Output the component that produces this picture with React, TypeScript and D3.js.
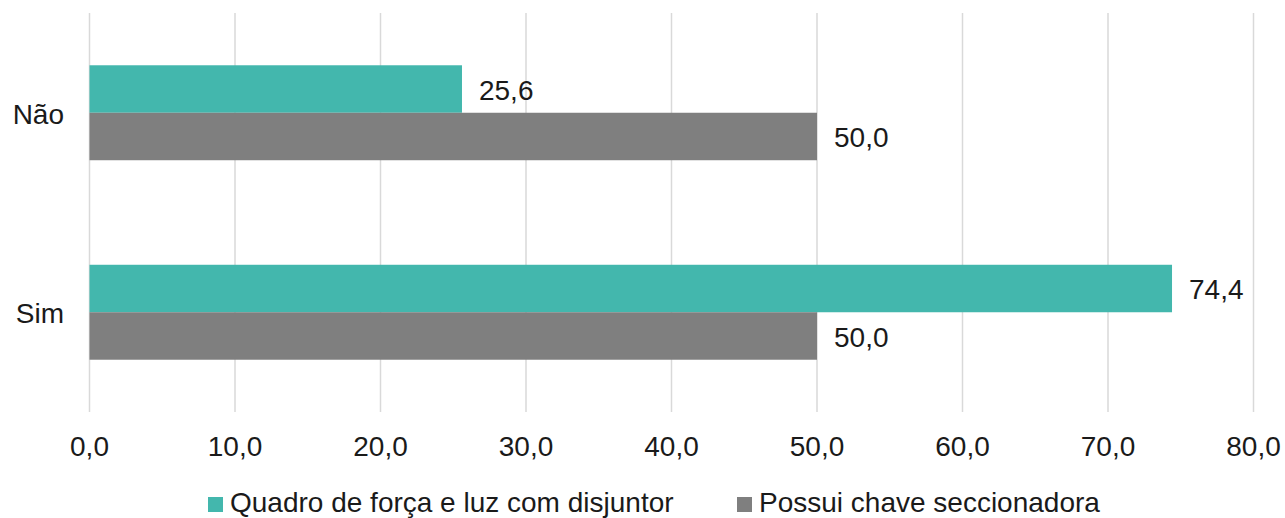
import React from "react";
import * as d3 from "d3";

const categories = ["Não", "Sim"];
const seriesNames = ["Quadro de força e luz com disjuntor", "Possui chave seccionadora"];
const quadroValues = [25.6, 74.4];
const chaveValues = [50.0, 50.0];
const xTicks = [0, 10, 20, 30, 40, 50, 60, 70, 80];
const colors = ["#43B7AD", "#7F7F7F"];

const W = 1285;
const H = 518;
const fmt = (v: number) => v.toFixed(1).replace(".", ",");

export default function App() {
  const x = d3.scaleLinear().domain([0, 80]).range([89.5, 1253.5]);
  const y = d3
    .scaleBand<string>()
    .domain(categories)
    .range([13, 412])
    .paddingInner(0.524)
    .paddingOuter(0.262);
  const inner = d3
    .scaleBand<string>()
    .domain(["q", "c"])
    .range([0, y.bandwidth()]);
  const series = [quadroValues, chaveValues];
  const font = "'Liberation Sans', Arial, sans-serif";
  const fs = 28;

  return (
    <svg
      width={W}
      height={H}
      style={{ position: "absolute", left: 0, top: 0, background: "#fff" }}
      fontFamily={font}
    >
      {xTicks.map((t) => (
        <line
          key={"g" + t}
          x1={x(t)}
          x2={x(t)}
          y1={13}
          y2={412}
          stroke="#D9D9D9"
          strokeWidth={1.5}
        />
      ))}
      {categories.map((c, i) => (
        <g key={c}>
          {series.map((vals, s) => {
            const yy = (y(c) as number) + (inner(s === 0 ? "q" : "c") as number);
            const h = inner.bandwidth();
            return (
              <g key={s}>
                <rect
                  x={x(0)}
                  y={yy}
                  width={x(vals[i]) - x(0)}
                  height={h}
                  fill={colors[s]}
                />
                <text
                  x={x(vals[i]) + 17}
                  y={yy + h / 2 + 1}
                  dy="0.35em"
                  fontSize={fs}
                  fill="#1a1a1a"
                >
                  {fmt(vals[i])}
                </text>
              </g>
            );
          })}
          <text
            x={64}
            y={(y(c) as number) + y.bandwidth() / 2 + 1}
            dy="0.35em"
            textAnchor="end"
            fontSize={fs}
            fill="#1a1a1a"
          >
            {c}
          </text>
        </g>
      ))}
      {xTicks.map((t) => (
        <text
          key={"t" + t}
          x={x(t)}
          y={456}
          textAnchor="middle"
          fontSize={fs}
          fill="#1a1a1a"
        >
          {fmt(t)}
        </text>
      ))}
      {seriesNames.map((n, s) => {
        const lx = s === 0 ? 208 : 737;
        return (
          <g key={n}>
            <rect x={lx} y={497} width={15} height={15} fill={colors[s]} />
            <text x={lx + 22} y={512} fontSize={fs} fill="#1a1a1a">
              {n}
            </text>
          </g>
        );
      })}
    </svg>
  );
}
